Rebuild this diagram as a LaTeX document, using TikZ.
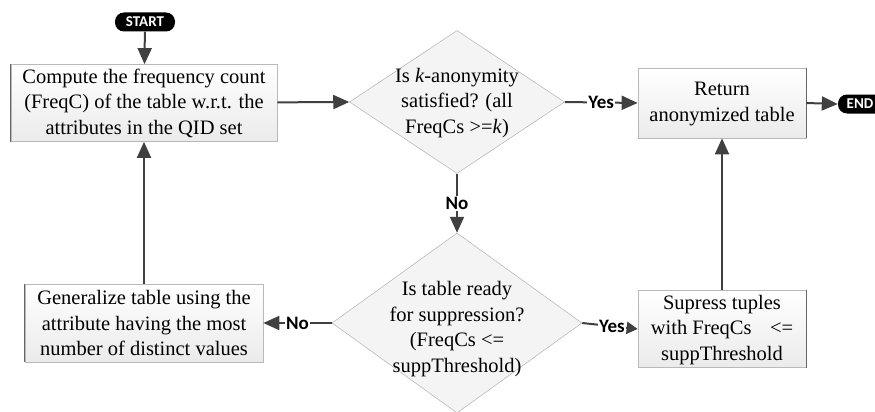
\documentclass[tikz,border=0pt]{standalone}
\usepackage{fontspec}
\setmainfont{Liberation Serif}
\newfontfamily\lblfont{Carlito}
\usetikzlibrary{shapes.geometric,arrows.meta}
\definecolor{linegray}{HTML}{404040}
\tikzset{
  procbox/.style={draw=gray!55, line width=0.7pt, top color=white, bottom color=gray!16,
    minimum width=#1, minimum height=77pt, inner sep=0pt},
  decision/.style={shape=diamond, draw=gray!60, line width=0.5pt, fill=gray!9,
    inner sep=0pt},
  bodytext/.style={align=center, font=\fontsize{20.5}{25.5}\selectfont, inner sep=0pt},
  terminal/.style={fill=black, rounded corners=9pt, minimum height=19pt, inner sep=0pt,
    text=white, font=\lblfont\bfseries\fontsize{15}{15}\selectfont},
  flow/.style={draw=linegray, line width=2pt,
    -{Triangle[length=16pt,width=14pt]}},
  branch/.style={fill=white, inner sep=1.5pt, text=black,
    font=\lblfont\bfseries\fontsize{19}{19}\selectfont},
}
\begin{document}
\begin{tikzpicture}[x=1pt,y=-1pt]
  \useasboundingbox (0,0) rectangle (875,412);

  % terminals
  \node[terminal, minimum width=60pt] (start) at (145,22) {START};
  \node[terminal, minimum width=48pt] (end) at (862,104) {END\hspace*{4pt}};

  % process boxes
  \node[procbox=266pt] (count) at (144,103) {};
  \node[bodytext] at (144,103) {Compute the frequency count\\(FreqC) of the table w.r.t. the\\attributes in the QID set};

  \node[procbox=168pt, minimum height=70pt] (ret) at (722,103) {};
  \node[bodytext] at (722,104) {Return\\anonymized table};

  \node[procbox=238pt, minimum height=78pt] (gen) at (144,323) {};
  \node[bodytext] at (144,323) {Generalize table using the\\attribute having the most\\number of distinct values};

  \node[procbox=168pt, minimum height=77pt] (sup) at (722,329) {};
  \node[bodytext] at (722,330) {Supress tuples\\with FreqCs\hspace{0.9em}<=\\suppThreshold};

  % darker edges on the boxes
  \draw[gray!80!black, line width=0.8pt] (count.north west) -- (count.south west);
  \draw[gray!80!black, line width=0.8pt] (ret.north east) -- (ret.south east);
  \draw[gray!80!black, line width=0.8pt] (gen.north west) -- (gen.south west);
  \draw[gray!80!black, line width=0.8pt] (sup.north east) -- (sup.south east);

  % decisions
  \node[decision, minimum width=215pt, minimum height=143pt] (kanon) at (457,102) {};
  \node[bodytext] at (457,103) {Is \textit{k}-anonymity\\satisfied? (all\\FreqCs >=\textit{k})};

  \node[decision, minimum width=250pt, minimum height=180pt] (ready) at (457,323) {};
  \node[bodytext] at (457,329) {Is table ready\\for suppression?\\(FreqCs <=\\suppThreshold)};

  % connectors
  \draw[flow] (start) -- (count);
  \draw[flow] (count) -- (kanon.west);
  \draw[flow] (kanon.east) -- node[branch] {Yes} (ret.west);
  \draw[flow] (ret.east) -- (end.west);
  \draw[flow] (kanon.south) -- node[branch] {No} (ready.north);
  \draw[flow] (ready.west) -- node[branch] {No} (gen.east);
  \draw[flow, -{Triangle[length=11pt,width=12pt]}] (ready.east) -- node[branch, xshift=2pt] {Yes} (sup.west);
  \draw[flow] (sup.north) -- (ret.south);
  \draw[flow] (gen.north) -- (count.south);
\end{tikzpicture}
\end{document}
